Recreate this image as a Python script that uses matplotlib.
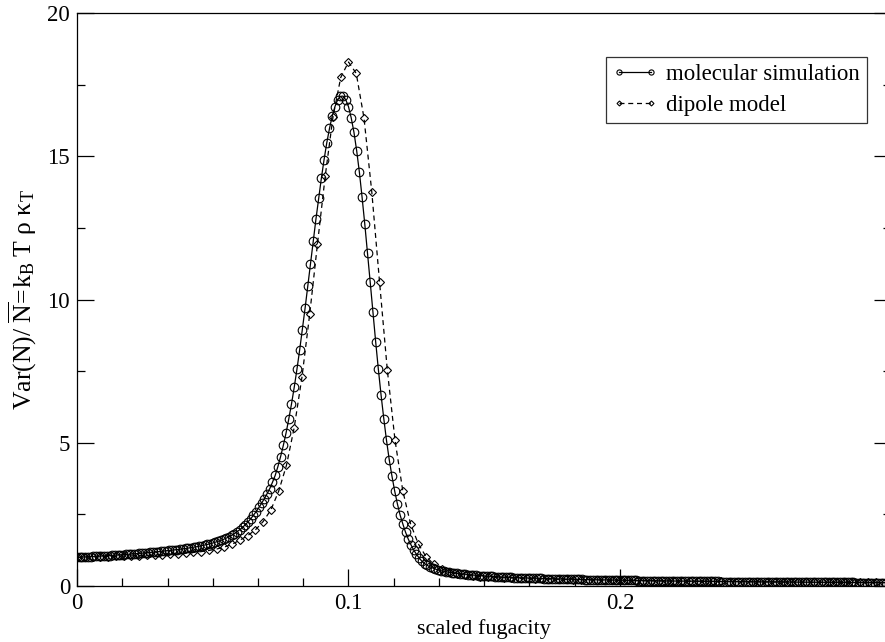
import numpy as np
import matplotlib
matplotlib.use("Agg")
import matplotlib.pyplot as plt
from matplotlib.ticker import MultipleLocator, FixedLocator, FixedFormatter

# ---------------- data ----------------
# molecular simulation: sampled every 0.001 in scaled fugacity, starting at 0
sim_x_step = 0.001
sim_y = [
    # 0.000 - 0.009
    1.000, 1.005, 1.011, 1.016, 1.021, 1.027, 1.032, 1.037, 1.042, 1.047,
    # 0.010 - 0.019
    1.053, 1.058, 1.064, 1.070, 1.076, 1.082, 1.088, 1.095, 1.102, 1.109,
    # 0.020 - 0.029
    1.116, 1.123, 1.131, 1.139, 1.147, 1.155, 1.163, 1.172, 1.181, 1.190,
    # 0.030 - 0.039
    1.200, 1.210, 1.220, 1.230, 1.240, 1.251, 1.262, 1.273, 1.285, 1.297,
    # 0.040 - 0.049
    1.310, 1.325, 1.340, 1.355, 1.370, 1.390, 1.410, 1.430, 1.450, 1.475,
    # 0.050 - 0.059
    1.500, 1.530, 1.560, 1.590, 1.630, 1.670, 1.720, 1.770, 1.830, 1.900,
    # 0.060 - 0.069
    1.970, 2.050, 2.140, 2.240, 2.350, 2.470, 2.600, 2.740, 2.890, 3.050,
    # 0.070 - 0.079
    3.220, 3.400, 3.620, 3.860, 4.170, 4.520, 4.910, 5.340, 5.830, 6.350,
    # 0.080 - 0.089
    6.930, 7.560, 8.230, 8.950, 9.690, 10.47, 11.25, 12.03, 12.80, 13.53,
    # 0.090 - 0.099
    14.23, 14.88, 15.47, 15.97, 16.40, 16.73, 16.97, 17.09, 17.10, 16.97,
    # 0.100 - 0.109
    16.73, 16.34, 15.84, 15.20, 14.45, 13.57, 12.63, 11.63, 10.60, 9.550,
    # 0.110 - 0.119
    8.530, 7.560, 6.660, 5.840, 5.080, 4.410, 3.840, 3.320, 2.870, 2.480,
    # 0.120 - 0.129
    2.170, 1.880, 1.640, 1.440, 1.260, 1.110, 0.980, 0.870, 0.780, 0.720,
    # 0.130 - 0.139
    0.670, 0.630, 0.590, 0.560, 0.535, 0.515, 0.495, 0.480, 0.465, 0.450,
    # 0.140 - 0.149
    0.440, 0.430, 0.420, 0.410, 0.400, 0.390, 0.380, 0.372, 0.365, 0.358,
    # 0.150 - 0.159
    0.351, 0.345, 0.339, 0.333, 0.327, 0.322, 0.317, 0.312, 0.307, 0.302,
    # 0.160 - 0.169
    0.298, 0.294, 0.291, 0.287, 0.284, 0.281, 0.278, 0.275, 0.272, 0.269,
    # 0.170 - 0.179
    0.266, 0.263, 0.260, 0.258, 0.255, 0.252, 0.250, 0.247, 0.245, 0.242,
    # 0.180 - 0.189
    0.240, 0.238, 0.236, 0.233, 0.231, 0.229, 0.227, 0.225, 0.223, 0.221,
    # 0.190 - 0.199
    0.219, 0.217, 0.215, 0.213, 0.212, 0.210, 0.208, 0.206, 0.205, 0.203,
    # 0.200 - 0.209
    0.201, 0.200, 0.198, 0.197, 0.195, 0.194, 0.192, 0.191, 0.189, 0.188,
    # 0.210 - 0.219
    0.187, 0.185, 0.184, 0.183, 0.181, 0.180, 0.179, 0.178, 0.176, 0.175,
    # 0.220 - 0.229
    0.174, 0.173, 0.172, 0.171, 0.170, 0.169, 0.167, 0.166, 0.165, 0.164,
    # 0.230 - 0.239
    0.163, 0.162, 0.161, 0.160, 0.159, 0.158, 0.158, 0.157, 0.156, 0.155,
    # 0.240 - 0.249
    0.154, 0.153, 0.152, 0.151, 0.151, 0.150, 0.149, 0.148, 0.147, 0.147,
    # 0.250 - 0.259
    0.146, 0.145, 0.144, 0.144, 0.143, 0.142, 0.141, 0.141, 0.140, 0.139,
    # 0.260 - 0.269
    0.139, 0.138, 0.137, 0.137, 0.136, 0.135, 0.135, 0.134, 0.133, 0.133,
    # 0.270 - 0.279
    0.132, 0.131, 0.131, 0.130, 0.130, 0.129, 0.128, 0.128, 0.127, 0.127,
    # 0.280 - 0.289
    0.126, 0.125, 0.125, 0.124, 0.124, 0.123, 0.123, 0.122, 0.122, 0.121,
    # 0.290 - 0.300
    0.121, 0.120, 0.120, 0.119, 0.119, 0.118, 0.118, 0.117, 0.117, 0.116,
    0.116,
]

# dipole model: sampled every 1/350 in scaled fugacity, starting at 0
dip_x_step = 1.0 / 350.0
dip_y = [
    1.000, 1.006, 1.012, 1.019, 1.026, 1.034, 1.042, 1.050, 1.060, 1.070,   # k 0-9
    1.081, 1.094, 1.108, 1.125, 1.145, 1.170, 1.200, 1.240, 1.290, 1.360,   # k 10-19
    1.460, 1.600, 1.760, 1.960, 2.250, 2.660, 3.310, 4.210, 5.530, 7.290,   # k 20-29
    9.490, 11.94, 14.31, 16.37, 17.75, 18.29, 17.89, 16.33, 13.76, 10.62,   # k 30-39
    7.550, 5.080, 3.320, 2.170, 1.470, 1.020, 0.760, 0.600, 0.500, 0.430,   # k 40-49
    0.380, 0.350, 0.330, 0.315, 0.300, 0.290, 0.280, 0.270, 0.262, 0.254,   # k 50-59
    0.247, 0.240, 0.234, 0.228, 0.223, 0.218, 0.213, 0.208, 0.204, 0.200,   # k 60-69
    0.196, 0.192, 0.189, 0.185, 0.182, 0.179, 0.176, 0.173, 0.170, 0.167,   # k 70-79
    0.165, 0.162, 0.160, 0.158, 0.155, 0.153, 0.151, 0.149, 0.147, 0.145,   # k 80-89
    0.143, 0.141, 0.140, 0.138, 0.136, 0.135, 0.133, 0.132, 0.130, 0.129,   # k 90-99
    0.127, 0.126, 0.125, 0.123, 0.122, 0.121,                               # k 100-105
]

x_major_ticks = [0.0, 0.1, 0.2]
x_tick_labels = ["0", "0.1", "0.2"]
y_major_ticks = [0, 5, 10, 15, 20]
y_tick_labels = ["0", "5", "10", "15", "20"]
series_labels = ["molecular simulation", "dipole model"]
x_label = "scaled fugacity"
y_label = r"$\mathrm{Var(N)/\ \overline{N}\!=\!k_B\ T\ \rho\ \kappa_T}$"

sim_x = np.arange(len(sim_y)) * sim_x_step
dip_x = np.arange(len(dip_y)) * dip_x_step

# ---------------- style ----------------
plt.rcParams["font.family"] = ["Liberation Serif", "DejaVu Serif"]
plt.rcParams["mathtext.fontset"] = "custom"
plt.rcParams["mathtext.rm"] = "Liberation Serif"
plt.rcParams["mathtext.it"] = "Liberation Serif:italic"

W, H = 885, 642
fig = plt.figure(figsize=(W / 100, H / 100), dpi=100)
left_px, right_px, top_px, bottom_px = 77, 891.5, 13, 586
ax = fig.add_axes([left_px / W, 1 - bottom_px / H,
                   (right_px - left_px) / W, (bottom_px - top_px) / H])

ax.plot(sim_x, sim_y, color="black", lw=0.9, marker="o", ms=6.2,
        mfc="none", mec="black", mew=0.8, label=series_labels[0])
ax.plot(dip_x, dip_y, color="black", lw=0.9, ls=(0, (4, 3)), marker="D",
        ms=4.2, mfc="none", mec="black", mew=0.8, label=series_labels[1])

ax.set_xlim(0, 0.3)
ax.set_ylim(0, 20)

ax.xaxis.set_major_locator(FixedLocator(x_major_ticks))
ax.xaxis.set_major_formatter(FixedFormatter(x_tick_labels))
ax.xaxis.set_minor_locator(MultipleLocator(0.1 / 6))
ax.yaxis.set_major_locator(FixedLocator(y_major_ticks))
ax.yaxis.set_major_formatter(FixedFormatter(y_tick_labels))
ax.yaxis.set_minor_locator(MultipleLocator(2.5))

ax.tick_params(which="both", direction="in", top=False, right=True,
               labelsize=16.5, width=0.9, colors="black")
ax.tick_params(which="major", length=12, pad=5)
ax.tick_params(which="minor", length=6)
for s in ax.spines.values():
    s.set_linewidth(0.9)

ax.set_xlabel(x_label, fontsize=16, labelpad=4)
ax.set_ylabel(y_label, fontsize=18.5, labelpad=6)

leg = ax.legend(loc="upper right", bbox_to_anchor=(867 / W, 1 - 57 / H),
                bbox_transform=fig.transFigure, borderaxespad=0,
                fontsize=16.5, frameon=True, fancybox=False, edgecolor="black",
                numpoints=2, handlelength=2.0, markerscale=0.6,
                handletextpad=0.35, borderpad=0.3, labelspacing=0.45)
leg.get_frame().set_linewidth(0.9)

fig.savefig("out.png", dpi=100)
